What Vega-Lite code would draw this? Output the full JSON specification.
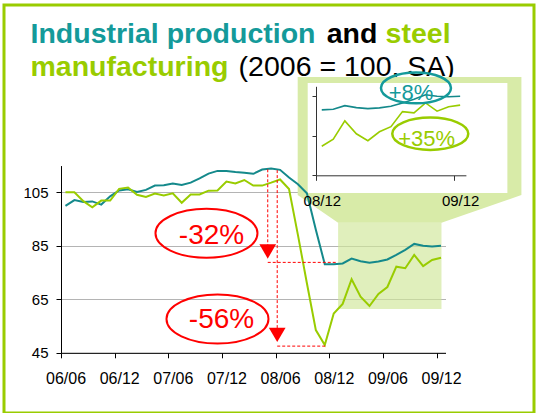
{
  "$schema": "https://vega.github.io/schema/vega-lite/v6.json",
  "width": 530,
  "height": 408,
  "autosize": {"type": "none"},
  "padding": {"left": 4, "top": 5, "right": 7, "bottom": 0},
  "background": "#ffffff",
  "config": {
    "view": {"stroke": "#99cc00", "strokeWidth": 3},
    "font": "Liberation Sans",
    "axis": {"labelFont": "Liberation Sans", "labelColor": "#000000", "domainColor": "#000000", "tickColor": "#000000", "title": null}
  },
  "datasets": {
    "series": [
      {"i": 0, "ip": 99.9, "steel": 105.0},
      {"i": 1, "ip": 102.1, "steel": 105.0},
      {"i": 2, "ip": 101.4, "steel": 101.7},
      {"i": 3, "ip": 101.6, "steel": 99.4},
      {"i": 4, "ip": 100.4, "steel": 101.9},
      {"i": 5, "ip": 103.5, "steel": 101.9},
      {"i": 6, "ip": 105.7, "steel": 106.3},
      {"i": 7, "ip": 106.1, "steel": 106.8},
      {"i": 8, "ip": 105.1, "steel": 104.1},
      {"i": 9, "ip": 105.9, "steel": 103.3},
      {"i": 10, "ip": 107.5, "steel": 104.5},
      {"i": 11, "ip": 107.6, "steel": 103.8},
      {"i": 12, "ip": 108.3, "steel": 104.6},
      {"i": 13, "ip": 107.7, "steel": 101.1},
      {"i": 14, "ip": 108.6, "steel": 104.2},
      {"i": 15, "ip": 110.2, "steel": 104.2},
      {"i": 16, "ip": 112.0, "steel": 105.6},
      {"i": 17, "ip": 113.0, "steel": 105.7},
      {"i": 18, "ip": 113.0, "steel": 109.0},
      {"i": 19, "ip": 112.6, "steel": 108.3},
      {"i": 20, "ip": 112.3, "steel": 109.6},
      {"i": 21, "ip": 111.9, "steel": 107.5},
      {"i": 22, "ip": 113.5, "steel": 107.5},
      {"i": 23, "ip": 113.9, "steel": 108.6},
      {"i": 24, "ip": 113.4, "steel": 109.8},
      {"i": 25, "ip": 110.5, "steel": 106.2},
      {"i": 26, "ip": 108.0, "steel": 89.0},
      {"i": 27, "ip": 104.6, "steel": 71.0},
      {"i": 28, "ip": 91.0, "steel": 53.5},
      {"i": 29, "ip": 78.1, "steel": 47.9},
      {"i": 30, "ip": 78.1, "steel": 59.7},
      {"i": 31, "ip": 78.4, "steel": 63.3},
      {"i": 32, "ip": 80.2, "steel": 72.5},
      {"i": 33, "ip": 79.2, "steel": 66.0},
      {"i": 34, "ip": 78.7, "steel": 62.5},
      {"i": 35, "ip": 79.1, "steel": 67.0},
      {"i": 36, "ip": 79.9, "steel": 69.6},
      {"i": 37, "ip": 81.6, "steel": 77.2},
      {"i": 38, "ip": 83.5, "steel": 76.6},
      {"i": 39, "ip": 85.7, "steel": 81.6},
      {"i": 40, "ip": 85.0, "steel": 77.4},
      {"i": 41, "ip": 84.7, "steel": 79.7},
      {"i": 42, "ip": 85.0, "steel": 80.5}
    ]
  },
  "resolve": {"scale": {"x": "independent", "y": "independent"}, "axis": {"x": "independent", "y": "independent"}},
  "layer": [
    {
      "encoding": {
        "x": {
          "field": "i", "type": "quantitative",
          "scale": {"domain": [-0.5, 42.5], "range": [57, 441.5], "nice": false, "zero": false},
          "axis": {
            "orient": "bottom", "offset": -60.2, "values": [-0.5, 5.5, 11.5, 17.5, 23.5, 29.5, 35.5, 41.5],
            "labelExpr": "(datum.value + 0.5) % 12 == 0 ? '0' + (6 + floor((datum.value + 0.5) / 12)) + '/06' : '0' + (6 + floor((datum.value + 0.5) / 12)) + '/12'",
            "labelOffset": 4.5, "tickSize": 5, "labelFontSize": 16, "labelPadding": 13,
            "grid": false, "labelFlush": false, "labelOverlap": false, "zindex": 1
          }
        },
        "y": {
          "field": "val", "type": "quantitative",
          "scale": {"domain": [45, 115], "range": [347.8, 160.55], "nice": false, "zero": false},
          "axis": {
            "orient": "left", "offset": -57, "values": [45, 65, 85, 105],
            "tickSize": 5, "labelFontSize": 15, "labelPadding": 8,
            "grid": true, "gridColor": "#b4b4b4", "gridWidth": 1, "labelFlush": false, "labelOverlap": false
          }
        }
      },
      "layer": [
        {
          "data": {"values": [{"i": -3.909, "val": 160.81, "label": "Industrial production"}]},
          "mark": {"type": "text", "align": "left", "baseline": "alphabetic", "fontSize": 28.5, "fontWeight": "bold", "color": "#149a9a"},
          "encoding": {"text": {"field": "label"}}
        },
        {
          "data": {"values": [{"i": 29.21, "val": 160.81, "label": "and"}]},
          "mark": {"type": "text", "align": "left", "baseline": "alphabetic", "fontSize": 28.5, "fontWeight": "bold", "color": "#000000"},
          "encoding": {"text": {"field": "label"}}
        },
        {
          "data": {"values": [{"i": 35.8, "val": 160.81, "label": "steel"}, {"i": -3.909, "val": 148.66, "label": "manufacturing"}]},
          "mark": {"type": "text", "align": "left", "baseline": "alphabetic", "fontSize": 28.5, "fontWeight": "bold", "color": "#99cc00"},
          "encoding": {"text": {"field": "label"}}
        },
        {
          "data": {"values": [{"i": 19.36, "val": 148.66, "label": "(2006 = 100, SA)"}]},
          "mark": {"type": "text", "align": "left", "baseline": "alphabetic", "fontSize": 28.5, "fontWeight": "normal", "color": "#000000"},
          "encoding": {"text": {"field": "label"}}
        },
        {
          "data": {"values": [{"i": 25.97, "i2": 50.99, "val": 148.1, "val2": 104.0}]},
          "mark": {"type": "rect", "fill": "#d8eba8"},
          "encoding": {"x2": {"field": "i2"}, "y2": {"field": "val2"}}
        },
        {
          "data": {"values": [{"val": 104.0, "i": 25.97, "i2": 50.99}, {"val": 93.6, "i": 30.49, "i2": 42.05}]},
          "mark": {"type": "area", "orient": "horizontal", "fill": "#d8eba8"},
          "encoding": {"x2": {"field": "i2"}}
        },
        {
          "data": {"values": [{"i": 30.49, "i2": 42.05, "val": 93.6, "val2": 61.4}]},
          "mark": {"type": "rect", "fill": "#cfe698", "opacity": 0.65},
          "encoding": {"x2": {"field": "i2"}, "y2": {"field": "val2"}}
        },
        {
          "data": {"values": [{"i": 27.09, "i2": 49.42, "val": 145.86, "val2": 104.74}]},
          "mark": {"type": "rect", "fill": "#ffffff"},
          "encoding": {"x2": {"field": "i2"}, "y2": {"field": "val2"}}
        },
        {
          "data": {"name": "series"},
          "transform": [{"fold": ["ip", "steel"], "as": ["series", "val"]}],
          "mark": {"type": "line", "strokeWidth": 2},
          "encoding": {
            "color": {"field": "series", "type": "nominal", "scale": {"domain": ["ip", "steel"], "range": ["#14898b", "#99cc00"]}, "legend": null}
          }
        },
        {
          "data": {"values": [{"i": 22.62, "val": 113.6, "val2": 83.5}, {"i": 23.68, "val": 113.3, "val2": 52.5}]},
          "mark": {"type": "rule", "stroke": "#ff0000", "strokeWidth": 1, "strokeDash": [3, 2]},
          "encoding": {"y2": {"field": "val2"}}
        },
        {
          "data": {"values": [{"i": 22.62, "i2": 30.3, "val": 78.8}, {"i": 23.68, "i2": 29.2, "val": 47.5}]},
          "mark": {"type": "rule", "stroke": "#ff0000", "strokeWidth": 1, "strokeDash": [3, 2]},
          "encoding": {"x2": {"field": "i2"}}
        },
        {
          "data": {"values": [{"i": 22.62, "val": 82.9}, {"i": 23.68, "val": 51.7}]},
          "mark": {"type": "point", "shape": "triangle-down", "filled": true, "color": "#ff0000", "size": 280, "opacity": 1}
        },
        {
          "data": {"values": [{"i": 15.77, "val": 89.67}, {"i": 17.0, "val": 57.63}]},
          "mark": {"type": "point", "shape": "M -1 0 A 1 0.48 0 1 1 1 0 A 1 0.48 0 1 1 -1 0 Z", "filled": false, "stroke": "#ff0000", "strokeWidth": 2, "size": 10404, "opacity": 1}
        },
        {
          "data": {"values": [{"i": 16.33, "val": 88.5, "label": "-32%"}, {"i": 17.45, "val": 57.1, "label": "-56%"}]},
          "mark": {"type": "text", "align": "center", "baseline": "middle", "fontSize": 28, "color": "#ff0000"},
          "encoding": {"text": {"field": "label"}}
        }
      ]
    },
    {
      "encoding": {
        "x": {
          "field": "i", "type": "quantitative",
          "scale": {"domain": [29.5, 42.5], "range": [312, 461.9], "nice": false, "zero": false},
          "axis": {
            "orient": "bottom", "offset": -237.7, "values": [29.5, 41.5],
            "labelExpr": "datum.value < 35 ? '08/12' : '09/12'",
            "labelOffset": 5.8, "tickSize": 5, "labelFontSize": 15, "labelPadding": 13,
            "grid": false, "labelFlush": false, "labelOverlap": false, "zindex": 1, "domainColor": "#333333", "tickColor": "#333333"
          }
        },
        "y": {
          "field": "val", "type": "quantitative",
          "scale": {"domain": [45, 90], "range": [170.3, 81.3], "nice": false, "zero": false},
          "axis": {
            "orient": "left", "offset": -312, "values": [45, 65, 85], "labels": false,
            "tickSize": 4, "grid": false, "zindex": 1, "domainColor": "#333333", "tickColor": "#333333"
          }
        }
      },
      "layer": [
        {
          "data": {"name": "series"},
          "transform": [{"filter": "datum.i >= 30"}, {"fold": ["ip", "steel"], "as": ["series", "val"]}],
          "mark": {"type": "line", "strokeWidth": 1.6},
          "encoding": {
            "color": {"field": "series", "type": "nominal", "scale": {"domain": ["ip", "steel"], "range": ["#14898b", "#99cc00"]}, "legend": null}
          }
        },
        {
          "data": {"values": [{"i": 38.17, "val": 89.2}]},
          "mark": {"type": "point", "shape": "M -1 0 A 1 0.44 0 1 1 1 0 A 1 0.44 0 1 1 -1 0 Z", "filled": false, "stroke": "#149a9a", "strokeWidth": 2.5, "size": 4900, "opacity": 1}
        },
        {
          "data": {"values": [{"i": 39.41, "val": 66.0}]},
          "mark": {"type": "point", "shape": "M -1 0 A 1 0.425 0 1 1 1 0 A 1 0.425 0 1 1 -1 0 Z", "filled": false, "stroke": "#99cc00", "strokeWidth": 2.5, "size": 5776, "opacity": 1}
        },
        {
          "data": {"values": [{"i": 37.74, "val": 86.5, "label": "+8%"}]},
          "mark": {"type": "text", "align": "center", "baseline": "middle", "fontSize": 22, "color": "#149a9a"},
          "encoding": {"text": {"field": "label"}}
        },
        {
          "data": {"values": [{"i": 39.1, "val": 63.3, "label": "+35%"}]},
          "mark": {"type": "text", "align": "center", "baseline": "middle", "fontSize": 22, "color": "#99cc00"},
          "encoding": {"text": {"field": "label"}}
        }
      ]
    }
  ]
}
